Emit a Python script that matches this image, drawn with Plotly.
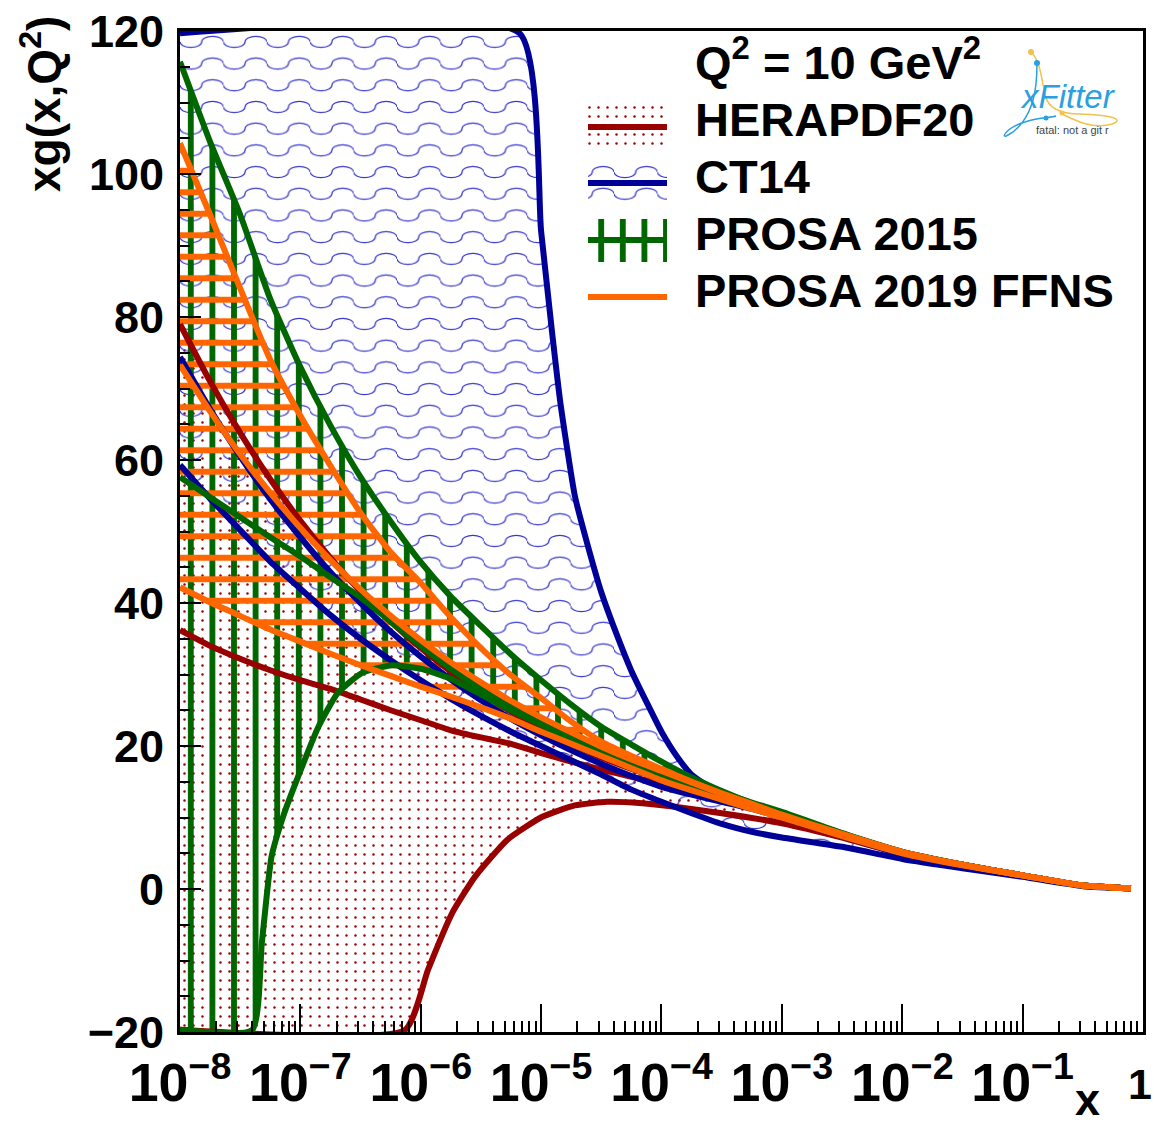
import plotly.graph_objects as go

# ---------------- data ----------------
LOG10_X = [-8, -7.75, -7.5, -7.25, -7, -6.75, -6.5, -6.25, -6, -5.75, -5.5, -5.25, -5,
           -4.75, -4.5, -4.25, -4, -3.75, -3.5, -3.25, -3, -2.5, -2, -1.5, -1, -0.5, -0.1]

HERA_UP = [79.0, 71.0, 63.8, 57.3, 51.5, 46.3, 41.6, 37.4, 33.7, 30.4, 27.4, 24.8, 22.4,
           20.3, 18.4, 16.8, 15.4, 14.1, 12.9, 11.7, 10.5, 7.7, 5.2, 3.4, 1.9, 0.5, 0.1]
HERA_CEN = [36.2, 34.0, 32.2, 30.6, 29.2, 28.0, 26.5, 25.0, 23.6, 22.2, 21.2, 20.3, 19.0,
            17.8, 16.7, 15.7, 14.7, 13.7, 12.8, 11.7, 10.5, 7.6, 5.1, 3.4, 1.9, 0.5, 0.1]
HERA_LOW_LOG10_X = [-8, -6.13, -5.94, -5.74, -5.55, -5.28, -4.99, -4.72, -4.45, -4.16, -3.89,
                    -3.5, -3, -2.5, -2, -1.5, -1, -0.5, -0.1]
HERA_LOW = [-19.7, -19.7, -11.3, -3.4, 1.7, 6.9, 10.1, 11.7, 12.2, 12.0, 11.5,
            10.6, 9.2, 7.2, 4.9, 3.3, 1.9, 0.5, 0.1]

CT14_UP_LOG10_X = [-8, -5.18, -5.0, -4.91, -4.84, -4.72, -4.62, -4.5, -4.37, -4.25, -4.12, -4.0,
                   -3.87, -3.75, -3.62, -3.5, -3.25, -3, -2.5, -2, -1.5, -1, -0.5, -0.1]
CT14_UP = [119.7, 119.7, 92, 78, 68, 55, 48.5, 41.5, 35.5, 30.5, 26, 22,
           18.5, 16, 14.5, 13.4, 11.8, 10.4, 7.7, 5.1, 3.4, 1.9, 0.5, 0.1]
CT14_CEN = [74.4, 67.1, 60.5, 54.5, 49.2, 44.3, 40.0, 36.0, 32.5, 29.3, 26.4, 23.8, 21.5,
            19.4, 17.5, 15.8, 14.3, 13.2, 12.2, 11.2, 10.0, 7.4, 4.9, 3.3, 1.85, 0.5, 0.1]
CT14_LOW = [59.3, 54.6, 50.2, 45.8, 42.0, 38.3, 35.0, 32.0, 29.2, 26.6, 24.2, 22.0, 20.0,
            18.0, 16.0, 13.9, 12.2, 10.6, 9.1, 8.0, 7.2, 5.9, 4.2, 2.9, 1.7, 0.4, 0.1]

P15_UP = [115.7, 104.5, 94.3, 82.5, 73.0, 64.8, 57.6, 51.4, 45.7, 40.9, 36.8, 32.8, 29.2,
          25.8, 22.7, 20.2, 17.8, 15.6, 13.7, 12.0, 10.5, 7.8, 5.2, 3.4, 1.9, 0.5, 0.1]
P15_CEN = [57.6, 54.8, 52.0, 49.2, 46.5, 43.6, 40.8, 37.4, 34.0, 30.8, 28.0, 25.8, 23.8,
           21.7, 19.6, 17.8, 16.2, 14.8, 13.5, 12.1, 10.8, 7.8, 5.2, 3.4, 1.9, 0.5, 0.1]
P15_LOW_LOG10_X = [-8, -7.40, -7.32, -7.24, -7.14, -7.04, -6.85, -6.69, -6.49, -6.24, -6,
                   -5.75, -5.5, -5.25, -5, -4.75, -4.5, -4.25, -4, -3.75, -3.5, -3.25, -3,
                   -2.5, -2, -1.5, -1, -0.5, -0.1]
P15_LOW = [-19.7, -19.7, -7.5, 4.5, 10.3, 14.8, 22.7, 27.4, 30.2, 31.3, 30.8,
           29.4, 27.2, 25.0, 23.0, 20.9, 18.9, 17.1, 15.5, 14.1, 12.8, 11.5, 10.3,
           7.6, 5.1, 3.4, 1.9, 0.5, 0.1]

P19_UP = [104.3, 94.3, 84.0, 74.0, 66.2, 59.2, 52.6, 47.1, 42.8, 38.0, 33.7, 29.9, 26.7,
          23.4, 20.6, 18.6, 16.8, 15.0, 13.4, 11.9, 10.4, 7.7, 5.2, 3.4, 1.9, 0.5, 0.1]
P19_CEN = [73.3, 66.8, 60.8, 55.4, 50.5, 46.0, 41.9, 38.2, 34.8, 31.7, 28.9, 26.3, 24.0,
           21.9, 19.9, 18.1, 16.5, 14.9, 13.3, 11.7, 10.2, 7.6, 5.1, 3.4, 1.9, 0.5, 0.1]
P19_LOW = [42.2, 40.1, 38.2, 36.3, 34.6, 32.9, 31.3, 29.8, 28.3, 26.9, 25.4, 23.8, 22.0,
           20.3, 18.6, 16.9, 15.2, 13.8, 12.5, 11.2, 10.0, 7.4, 5.0, 3.3, 1.9, 0.5, 0.1]

X_END_LABEL = "1"   # label of the last decade, drawn just inside the page edge
LEGEND_LABELS = ["HERAPDF20", "CT14", "PROSA 2015", "PROSA 2019 FFNS"]
HEADER = "Q<sup>2</sup> = 10 GeV<sup>2</sup>"

# ---------------- styling ----------------
RED, BLUE, GREEN, ORANGE, WAVE = '#990000', '#000099', '#006600', '#ff6600', '#3333cc'
FONT = 'Liberation Sans, Arial, Helvetica, sans-serif'
W, H = 1154, 1126
L, R, T, B = 180, 1143, 31, 1032   # plot frame in pixels
LW = 6


def xs(logs):
    return [10 ** v for v in logs]


def px_x(p):
    return (p - L) / (R - L)


def px_y(p):
    return (B - p) / (B - T)


PAT = {
    'hera': dict(shape='.', fgcolor=RED, bgcolor='rgba(0,0,0,0)', size=9, solidity=0.06,
                 fillmode='overlay', fgopacity=1),
    'ct14': dict(shape='-', fgcolor=WAVE, bgcolor='rgba(0,0,0,0)', size=22, solidity=0.05,
                 fillmode='overlay', fgopacity=1),
    'p15': dict(shape='|', fgcolor=GREEN, bgcolor='rgba(0,0,0,0)', size=21.6, solidity=0.27,
                fillmode='overlay', fgopacity=1),
    'p19': dict(shape='-', fgcolor=ORANGE, bgcolor='rgba(0,0,0,0)', size=21.5, solidity=0.28,
                fillmode='overlay', fgopacity=1),
}

fig = go.Figure()


def band(lx_low, low, lx_up, up, pat):
    fig.add_trace(go.Scatter(x=xs(lx_low), y=low, mode='lines',
                             line=dict(width=0, shape='spline', smoothing=0.5),
                             hoverinfo='skip', showlegend=False))
    fig.add_trace(go.Scatter(x=xs(lx_up), y=up, mode='lines',
                             line=dict(width=0, shape='spline', smoothing=0.5),
                             fill='tonexty', fillcolor='rgba(0,0,0,0)', fillpattern=pat,
                             hoverinfo='skip', showlegend=False))


def curve(lx, y, color):
    fig.add_trace(go.Scatter(x=xs(lx), y=y, mode='lines',
                             line=dict(width=LW, color=color, shape='spline', smoothing=0.5),
                             hoverinfo='skip', showlegend=False))


band(HERA_LOW_LOG10_X, HERA_LOW, LOG10_X, HERA_UP, PAT['hera'])
band(LOG10_X, CT14_LOW, CT14_UP_LOG10_X, CT14_UP, PAT['ct14'])
band(P15_LOW_LOG10_X, P15_LOW, LOG10_X, P15_UP, PAT['p15'])
band(LOG10_X, P19_LOW, LOG10_X, P19_UP, PAT['p19'])

curve(LOG10_X, HERA_UP, RED)
curve(HERA_LOW_LOG10_X, HERA_LOW, RED)
curve(LOG10_X, HERA_CEN, RED)
curve(CT14_UP_LOG10_X, CT14_UP, BLUE)
curve(LOG10_X, CT14_LOW, BLUE)
curve(LOG10_X, CT14_CEN, BLUE)
curve(LOG10_X, P15_UP, GREEN)
curve(P15_LOW_LOG10_X, P15_LOW, GREEN)
curve(LOG10_X, P15_CEN, GREEN)
curve(LOG10_X, P19_UP, ORANGE)
curve(LOG10_X, P19_LOW, ORANGE)
curve(LOG10_X, P19_CEN, ORANGE)

# ---------------- legend (drawn by hand, ROOT style) ----------------
SW_X0, SW_X1 = 588, 667
legend_rows = [  # (label, line y, pattern box, colour)
    (LEGEND_LABELS[0], 127, (106, 150), PAT['hera'], RED),
    (LEGEND_LABELS[1], 183, (163, 202), PAT['ct14'], BLUE),
    (LEGEND_LABELS[2], 240, (219, 262), PAT['p15'], GREEN),
    (LEGEND_LABELS[3], 297, None, None, ORANGE),
]
TEXT_Y = [120, 177, 233, 290]
for (label, ly, box, pat, col), ty in zip(legend_rows, TEXT_Y):
    if box is not None:
        fig.add_trace(go.Scatter(x=[SW_X0, SW_X1, SW_X1, SW_X0, SW_X0],
                                 y=[box[0], box[0], box[1], box[1], box[0]],
                                 xaxis='x2', yaxis='y2', mode='lines', line=dict(width=0),
                                 fill='toself', fillcolor='rgba(0,0,0,0)', fillpattern=pat,
                                 hoverinfo='skip', showlegend=False))
    fig.add_trace(go.Scatter(x=[SW_X0, SW_X1], y=[ly, ly], xaxis='x2', yaxis='y2',
                             mode='lines', line=dict(width=6, color=col),
                             hoverinfo='skip', showlegend=False))
    fig.add_annotation(text=label, x=px_x(693), y=px_y(ty), xref='paper', yref='paper',
                       xanchor='left', yanchor='middle', showarrow=False,
                       font=dict(family=FONT, size=47, color='black', weight='bold'))

fig.add_annotation(text=HEADER, x=px_x(693), y=px_y(59), xref='paper', yref='paper',
                   xanchor='left', yanchor='middle', showarrow=False,
                   font=dict(family=FONT, size=47, color='black', weight='bold'))

# xFitter logo (text + decorative loops)
fig.add_annotation(text="xFitter", x=px_x(1068), y=px_y(97), xref='paper', yref='paper',
                   xanchor='center', yanchor='middle', showarrow=False,
                   font=dict(family=FONT, size=33, color='#2aa0e0', style='italic'))
fig.add_annotation(text="fatal: not a git r", x=px_x(1072), y=px_y(130), xref='paper',
                   yref='paper', xanchor='center', yanchor='middle', showarrow=False,
                   font=dict(family=FONT, size=11, color='#444444'))
logo_shapes = [
    ("M1031,52 C1040,60 1042,80 1045,95 C1048,108 1060,114 1080,114 "
     "C1110,115 1126,119 1112,124 C1092,130 1072,119 1060,113", '#f2c14e'),
    ("M1037,62 C1037,75 1036,90 1033,100 C1028,118 1018,130 1008,135 "
     "C1000,140 1005,128 1025,122 C1040,117 1050,118 1056,116", '#2aa0e0'),
]
for path, col in logo_shapes:
    fig.add_shape(type='path', path=path, xref='x2', yref='y2',
                  line=dict(color=col, width=1.5))
for cx, cy, r, col in [(1031, 52, 3, '#f2c14e'), (1037, 63, 3, '#2aa0e0'),
                       (1046, 118, 2.5, '#2aa0e0'), (1062, 113, 2.5, '#f2c14e')]:
    fig.add_shape(type='circle', x0=cx - r, x1=cx + r, y0=cy - r, y1=cy + r,
                  xref='x2', yref='y2', fillcolor=col, line=dict(width=0))

# axis titles
fig.add_annotation(text="xg(x,Q<sup>2</sup>)", textangle=-90, x=px_x(41), y=px_y(14),
                   xref='paper', yref='paper', xanchor='center', yanchor='top',
                   showarrow=False, font=dict(family=FONT, size=46, color='black', weight='bold'))
fig.add_annotation(text="x", x=px_x(1087), y=px_y(1126), xref='paper', yref='paper',
                   xanchor='center', yanchor='bottom', showarrow=False, borderpad=0,
                   font=dict(family=FONT, size=45, color='black', weight='bold'))
fig.add_annotation(text=X_END_LABEL, x=px_x(1153), y=px_y(1084), xref='paper',
                   yref='paper', xanchor='right', yanchor='middle', showarrow=False,
                   borderpad=0, font=dict(family=FONT, size=43, color='black', weight='bold'))

fig.update_layout(
    width=W, height=H,
    margin=dict(l=L, r=W - R, t=T, b=H - B, pad=0, autoexpand=False),
    paper_bgcolor='white', plot_bgcolor='white',
    showlegend=False,
    xaxis=dict(type='log', range=[-8, 0.0001], dtick=1, exponentformat='power',
               labelalias={X_END_LABEL: ' '},
               automargin=False,
               showgrid=False, zeroline=False, showline=True, linewidth=3, linecolor='black',
               mirror=True, ticks='inside', ticklen=28, tickwidth=2, tickcolor='black',
               tickfont=dict(family=FONT, size=43, color='black', weight='bold'),
               ticklabelstandoff=4, ticklabeloverflow='allow',
               minor=dict(ticks='inside', ticklen=11, tickwidth=2, tickcolor='black',
                          dtick='D1', showgrid=False)),
    yaxis=dict(range=[-20, 120], dtick=20, tick0=0, showgrid=False, zeroline=False,
               automargin=False,
               showline=True, linewidth=3, linecolor='black', mirror=True,
               ticks='inside', ticklen=21, tickwidth=2, tickcolor='black',
               tickfont=dict(family=FONT, size=45, color='black', weight='bold'),
               ticklabelstandoff=4, ticklabeloverflow='allow',
               minor=dict(ticks='inside', ticklen=10, tickwidth=2, tickcolor='black',
                          dtick=5, showgrid=False)),
    xaxis2=dict(overlaying='x', range=[L, R], visible=False, anchor='y2'),
    yaxis2=dict(overlaying='y', range=[B, T], visible=False, anchor='x2'),
)

# ROOT-like wavy pattern for the CT14 band (replaces the plain '-' pattern tile)
POST = """
(function(){
  function wave(){
    var pats = document.querySelectorAll('pattern');
    pats.forEach(function(p){
      var path = p.querySelector('path');
      if(!path) return;
      var st = (path.getAttribute('stroke') || '').replace(/\\s/g,'').toLowerCase();
      var cs = window.getComputedStyle(path).stroke.replace(/\\s/g,'');
      if(st === 'rgb(51,51,204)' || st === '#3333cc' || cs === 'rgb(51,51,204)'){
        p.setAttribute('width', 43.4);
        p.setAttribute('height', 21.7);
        path.setAttribute('d', 'M0,10.85 a10.85,5.5 0 0 0 21.7,0 a10.85,5.5 0 0 1 21.7,0');
        path.setAttribute('stroke-width', '1.2');
        path.style.strokeWidth = '1.2px';
        path.setAttribute('fill', 'none');
        p.querySelectorAll('rect').forEach(function(r){
          r.setAttribute('width', 43.4); r.setAttribute('height', 21.7);
        });
      }
    });
  }
  wave();
  var gd = document.getElementById('{plot_id}');
  if(gd && gd.on){ gd.on('plotly_afterplot', wave); }
})();
"""

fig.write_html("out.html", post_script=POST)
